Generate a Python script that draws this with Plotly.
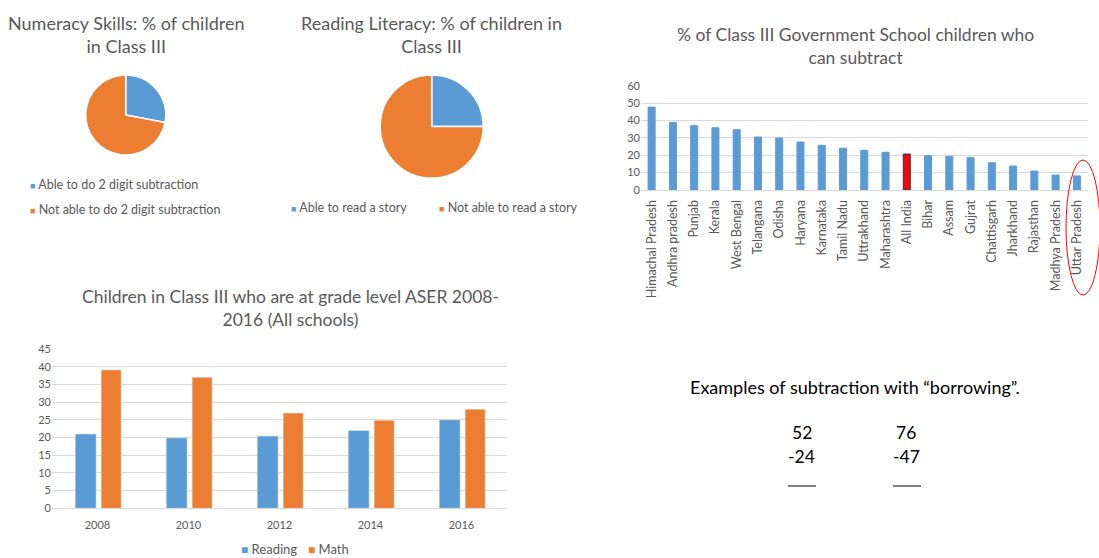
import plotly.graph_objects as go

W, H = 1099, 558
def px(x):
    return x / W
def py(y):
    return 1 - y / H

FONT = "Lato"
GRAY = "#595959"
BLUE = "#5b9bd5"
ORANGE = "#ed7d31"
RED = "#ff0000"

# ---------------- data ----------------
numeracy_labels = ["Able to do 2 digit subtraction", "Not able to do 2 digit subtraction"]
numeracy_values = [28, 72]
reading_labels = ["Able to read a story", "Not able to read a story"]
reading_values = [25, 75]

states = ["Himachal Pradesh", "Andhra pradesh", "Punjab", "Kerala", "West Bengal",
          "Telangana", "Odisha", "Haryana", "Karnataka", "Tamil Nadu", "Uttrakhand",
          "Maharashtra", "All India", "Bihar", "Assam", "Gujrat", "Chattisgarh",
          "Jharkhand", "Rajasthan", "Madhya Pradesh", "Uttar Pradesh"]
subtract_pct = [47.7, 38.9, 37.0, 35.8, 34.7, 30.5, 29.9, 27.6, 25.7, 24.0, 22.8,
                21.7, 20.7, 19.7, 19.4, 18.6, 15.7, 13.8, 10.9, 8.6, 8.1]

years = ["2008", "2010", "2012", "2014", "2016"]
series_names = ["Reading", "Math"]
reading_grade = [21.0, 19.9, 20.4, 22.0, 25.0]
math_grade = [39.1, 37.0, 26.9, 24.9, 28.0]

fig = go.Figure()

# ---------------- pies ----------------
fig.add_trace(go.Pie(
    labels=numeracy_labels, values=numeracy_values, sort=False, direction="clockwise",
    rotation=0, textinfo="none", hoverinfo="label+percent", showlegend=False,
    marker=dict(colors=[BLUE, ORANGE], line=dict(color="white", width=1.5)),
    domain=dict(x=[px(85.7), px(165.7)], y=[py(155), py(75)]),
))
fig.add_trace(go.Pie(
    labels=reading_labels, values=reading_values, sort=False, direction="clockwise",
    rotation=0, textinfo="none", hoverinfo="label+percent", showlegend=False,
    marker=dict(colors=[BLUE, ORANGE], line=dict(color="white", width=1.5)),
    domain=dict(x=[px(380.2), px(483.2)], y=[py(178), py(75)]),
))

# ---------------- state bar chart ----------------
bar_colors = [RED if s == "All India" else BLUE for s in states]
line_colors = ["#203864" if s == "All India" else BLUE for s in states]
fig.add_trace(go.Bar(
    x=states, y=subtract_pct, width=0.33, showlegend=False,
    marker=dict(color=bar_colors, line=dict(color=line_colors, width=1)),
    xaxis="x", yaxis="y",
))

# ---------------- year bar chart ----------------
fig.add_trace(go.Bar(
    x=years, y=reading_grade, name=series_names[0], offset=-0.245, width=0.23,
    marker=dict(color=BLUE), xaxis="x2", yaxis="y2", showlegend=False,
))
fig.add_trace(go.Bar(
    x=years, y=math_grade, name=series_names[1], offset=0.04, width=0.22,
    marker=dict(color=ORANGE), xaxis="x2", yaxis="y2", showlegend=False,
))

tickfont = dict(family=FONT, size=11, color=GRAY)

fig.update_layout(
    width=W, height=H,
    margin=dict(l=0, r=0, t=0, b=0, autoexpand=False),
    paper_bgcolor="white", plot_bgcolor="white",
    font=dict(family=FONT, color=GRAY),
    barmode="group",
    showlegend=False,
    xaxis=dict(domain=[px(641), px(1087.5)], anchor="y", type="category",
               tickangle=-90, tickfont=dict(family=FONT, size=12.5, color=GRAY),
               showgrid=False, showline=True, linecolor="#d9d9d9", ticks="",
               ticklabelstandoff=4),
    yaxis=dict(domain=[py(190), py(85.7)], anchor="x", range=[0, 60], dtick=10,
               gridcolor="#d9d9d9", zeroline=False, showline=False, tickfont=tickfont),
    xaxis2=dict(domain=[px(52), px(507)], anchor="y2", type="category",
                tickfont=tickfont, showgrid=False, showline=True, linecolor="#d9d9d9",
                ticks="", ticklabelstandoff=6),
    yaxis2=dict(domain=[py(508.3), py(349)], anchor="x2", range=[0, 45], dtick=5,
                gridcolor="#d9d9d9", zeroline=False, showline=False, tickfont=tickfont),
)

def ann(text, x, y, size, color=GRAY, xanchor="center"):
    fig.add_annotation(text=text, x=px(x), y=py(y), xref="paper", yref="paper",
                       showarrow=False, xanchor=xanchor, yanchor="middle",
                       font=dict(family=FONT, size=size, color=color), align="center")

# titles
ann("Numeracy Skills: % of children<br>in Class III", 126, 34, 18)
ann("Reading Literacy: % of children in<br>Class III", 431, 34, 18)
ann("% of Class III Government School children who<br>can subtract", 855, 46, 17.5)
ann("Children in Class III who are at grade level ASER 2008-<br>2016 (All schools)", 290, 308, 17.5)

# legends
def sq(c, s=9):
    return "<span style='color:%s;font-size:%dpx'>■</span>" % (c, s)
ann(sq(BLUE) + " " + numeracy_labels[0], 28, 184, 12.5, xanchor="left")
ann(sq(ORANGE) + " " + numeracy_labels[1], 28, 209, 12.5, xanchor="left")
ann(sq(BLUE) + " " + reading_labels[0], 289, 207, 12.5, xanchor="left")
ann(sq(ORANGE) + " " + reading_labels[1], 437, 207, 12.5, xanchor="left")
ann(sq(BLUE, 12) + " " + series_names[0], 239, 549, 13, xanchor="left")
ann(sq(ORANGE, 12) + " " + series_names[1], 306, 549, 13, xanchor="left")

# subtraction examples
ann("Examples of subtraction with “borrowing”.", 855, 387, 18, color="black")
ann("52", 802, 432, 17.5, color="black")
ann("-24", 801, 456, 17.5, color="black")
ann("76", 906, 432, 17.5, color="black")
ann("-47", 906, 456, 17.5, color="black")
for x0, x1 in [(788, 816), (893, 921)]:
    fig.add_shape(type="line", xref="paper", yref="paper",
                  x0=px(x0), x1=px(x1), y0=py(486), y1=py(486),
                  line=dict(color="black", width=1))

# red ellipse highlighting Uttar Pradesh
fig.add_shape(type="circle", xref="paper", yref="paper",
              x0=px(1066), x1=px(1100), y0=py(295), y1=py(160),
              line=dict(color="red", width=1))

fig.write_html("out.html")
